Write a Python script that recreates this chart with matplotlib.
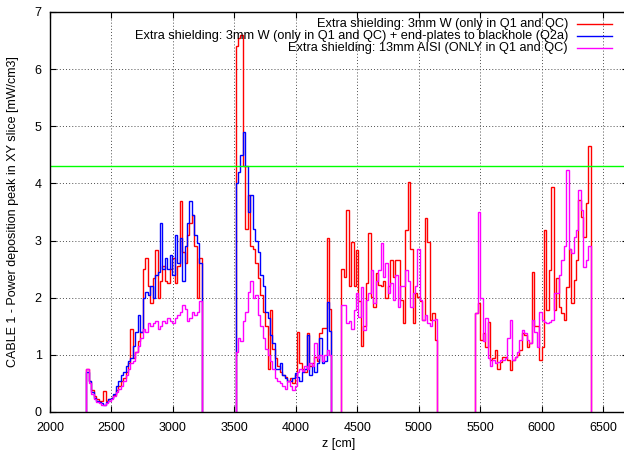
import numpy as np
import matplotlib
matplotlib.use("Agg")
import matplotlib.pyplot as plt
from matplotlib.lines import Line2D

plt.rcParams['font.family'] = ['Liberation Sans', 'DejaVu Sans']

# ---- data: peak power deposition per z slice, 20 cm bins ----
BIN = 20

# series labels
labels = [
    "Extra shielding: 3mm W (only in Q1 and QC)",
    "Extra shielding: 3mm W (only in Q1 and QC) + end-plates to blackhole (Q2a)",
    "Extra shielding: 13mm AISI (ONLY in Q1 and QC)",
]

# magnet section A (starts at z = 2295 cm)
zA = 2295
w_A = [0.75, 0.55, 0.38, 0.28, 0.22, 0.20, 0.20, 0.37, 0.20, 0.22,
       0.25, 0.30, 0.38, 0.45, 0.55, 0.60, 0.70, 0.85, 1.45, 0.95,
       1.05, 1.25, 1.40, 2.50, 2.70, 2.20, 1.90, 2.35, 2.83, 2.00,
       2.30, 2.55, 2.30, 2.25, 2.50, 2.70, 2.25, 2.55, 3.69, 2.80,
       2.60, 3.10, 3.30, 3.45, 2.90, 2.00, 2.70]
wbh_A = [0.70, 0.55, 0.35, 0.25, 0.20, 0.18, 0.15, 0.12, 0.18, 0.22,
         0.25, 0.32, 0.45, 0.55, 0.65, 0.70, 0.80, 0.90, 0.95, 1.15,
         1.40, 1.70, 1.40, 2.00, 2.10, 2.05, 2.20, 2.00, 2.40, 2.45,
         3.30, 2.50, 2.70, 2.50, 2.75, 2.40, 3.10, 2.60, 3.05, 2.30,
         2.90, 3.30, 3.70, 3.45, 3.10, 2.95, 2.60]
aisi_A = [0.75, 0.50, 0.32, 0.22, 0.18, 0.15, 0.12, 0.12, 0.15, 0.20,
          0.22, 0.28, 0.35, 0.40, 0.45, 0.55, 0.65, 0.75, 0.85, 0.90,
          1.05, 1.15, 1.30, 1.45, 1.40, 1.55, 1.50, 1.55, 1.60, 1.45,
          1.50, 1.60, 1.55, 1.65, 1.60, 1.55, 1.65, 1.70, 1.75, 1.88,
          1.80, 1.60, 1.65, 1.75, 1.70, 1.75, 1.95]

# magnet section B (starts at z = 3510 cm)
zB = 3510
w_B = [6.40, 6.55, 6.60, 4.30, 3.20, 3.80, 2.90, 2.85, 2.60, 2.35,
       2.05, 1.75, 1.50, 0.75, 1.78, 1.10, 0.95, 0.80, 0.70, 0.65,
       0.62, 0.55, 0.60, 0.50, 0.65, 1.40, 0.85, 0.75, 0.70, 1.38,
       0.80, 0.85, 0.97, 0.90, 1.38, 1.47, 1.47, 3.05, 1.80]
wbh_B = [4.00, 4.20, 4.50, 4.90, 4.30, 3.50, 3.80, 3.20, 3.00, 2.80,
         2.40, 2.20, 1.75, 1.65, 1.35, 1.20, 0.75, 0.75, 0.85, 0.65,
         0.60, 0.55, 0.55, 0.60, 0.68, 0.62, 0.55, 0.70, 0.75, 1.35,
         0.65, 0.80, 0.70, 0.85, 1.30, 0.85, 0.90, 1.93, 1.41]
aisi_B = [1.05, 1.30, 1.25, 1.60, 1.75, 2.10, 2.30, 2.00, 2.05, 1.70,
          1.50, 1.30, 1.10, 1.00, 0.90, 0.75, 0.60, 0.55, 0.50, 0.45,
          0.40, 0.55, 0.45, 0.38, 0.45, 0.70, 0.75, 0.72, 0.80, 0.75,
          0.85, 0.80, 1.20, 0.95, 1.00, 0.90, 1.00, 1.08, 1.00]

# magnet section C (starts at z = 4370 cm)
zC = 4370
w_C = [2.50, 2.37, 3.54, 2.20, 2.98, 2.20, 2.84, 1.95, 1.15, 1.50,
       2.25, 3.13, 2.02, 1.84, 2.43, 2.22, 2.20, 2.30, 2.00, 2.20,
       2.66, 2.37, 2.66, 2.66, 1.96, 1.55, 3.18, 4.03, 2.86, 1.55,
       2.08, 2.02, 1.95, 1.61, 3.39, 2.98, 1.61, 1.73, 1.26]
aisi_C = [1.87, 1.87, 1.55, 1.60, 1.45, 1.78, 2.08, 1.67, 2.19, 1.43,
          1.96, 2.08, 2.48, 1.90, 2.30, 2.48, 2.95, 2.37, 2.60, 2.08,
          2.25, 1.96, 2.40, 1.84, 2.20, 2.20, 2.48, 2.30, 1.84, 2.08,
          2.20, 2.86, 1.96, 1.61, 1.70, 1.55, 1.50, 1.61, 1.63]

# magnet section D (starts at z = 5460 cm)
zD = 5460
w_D = [1.73, 1.90, 1.26, 1.38, 1.14, 1.58, 0.91, 0.95, 1.08, 0.76,
       0.88, 0.97, 0.97, 0.91, 0.73, 0.91, 0.97, 1.00, 1.08, 1.38,
       1.35, 1.14, 1.20, 2.45, 1.50, 1.50, 0.91, 1.14, 3.18, 1.78,
       2.48, 3.94, 1.78, 2.34, 1.84, 1.73, 1.61, 2.19, 2.86, 1.90,
       2.31, 2.66, 3.71, 3.42, 3.07, 3.65, 4.65]
aisi_D = [1.73, 3.50, 2.00, 1.25, 1.64, 0.95, 0.80, 0.91, 0.85, 0.88,
          0.91, 0.91, 0.95, 1.30, 1.61, 0.91, 0.97, 1.05, 1.26, 1.43,
          1.38, 1.26, 1.20, 1.61, 1.40, 1.14, 1.75, 1.61, 1.58, 1.55,
          1.58, 1.61, 2.08, 2.08, 2.40, 2.66, 2.90, 4.23, 2.86, 2.78,
          3.07, 3.18, 3.88, 3.53, 2.54, 2.66, 2.90]

threshold = 4.3

x_ticks = [2000, 2500, 3000, 3500, 4000, 4500, 5000, 5500, 6000, 6500]
y_ticks = [0, 1, 2, 3, 4, 5, 6, 7]

series = [
    ("#ff0000", [(zA, w_A), (zB, w_B), (zC, w_C), (zD, w_D)]),
    ("#0000ff", [(zA, wbh_A), (zB, wbh_B)]),
    ("#ff00ff", [(zA, aisi_A), (zB, aisi_B), (zC, aisi_C), (zD, aisi_D)]),
]

# ---- figure ----
W, H = 624, 450
fig = plt.figure(figsize=(W / 100, H / 100), dpi=100)
left, right, top, bottom = 50, 627.6, 12, 412
ax = fig.add_axes([left / W, (H - bottom) / H, (right - left) / W, (bottom - top) / H])

for color, segs in series:
    for z0, vals in segs:
        edges = z0 + BIN * np.arange(len(vals) + 1)
        ax.stairs(vals, edges, baseline=0, color=color, lw=1.0)

ax.axhline(threshold, color="#00ff00", lw=1.0)

ax.set_xlim(2000, 6700)
ax.set_ylim(0, 7)
ax.set_xticks(x_ticks)
ax.set_yticks(y_ticks)
ax.tick_params(direction="in", length=4, width=0.8, top=True, right=True,
               labelsize=9, colors="black")
ax.tick_params(axis="x", pad=7)
ax.tick_params(axis="y", pad=6)
ax.grid(True, color="0.3", linestyle=(0, (1, 2.2)), lw=0.7)
ax.set_axisbelow(True)
for s in ax.spines.values():
    s.set_linewidth(1.0)

ax.set_xlabel("z [cm]", fontsize=9, labelpad=3)
ax.set_ylabel("CABLE 1 - Power deposition peak in XY slice [mW/cm3]",
              fontsize=9, labelpad=11)

# key in the upper right corner: right-aligned text followed by a line sample
row_y = [23.5, 35.5, 47.5]
colors = [c for c, _ in series]
for lab, c, ry in zip(labels, colors, row_y):
    fig.text(568 / W, 1 - ry / H, lab, ha="right", va="center", fontsize=9.2)
    fig.add_artist(Line2D([577 / W, 612 / W], [1 - ry / H, 1 - ry / H],
                          color=c, lw=1.0, transform=fig.transFigure))

fig.savefig("out.png", dpi=100)
